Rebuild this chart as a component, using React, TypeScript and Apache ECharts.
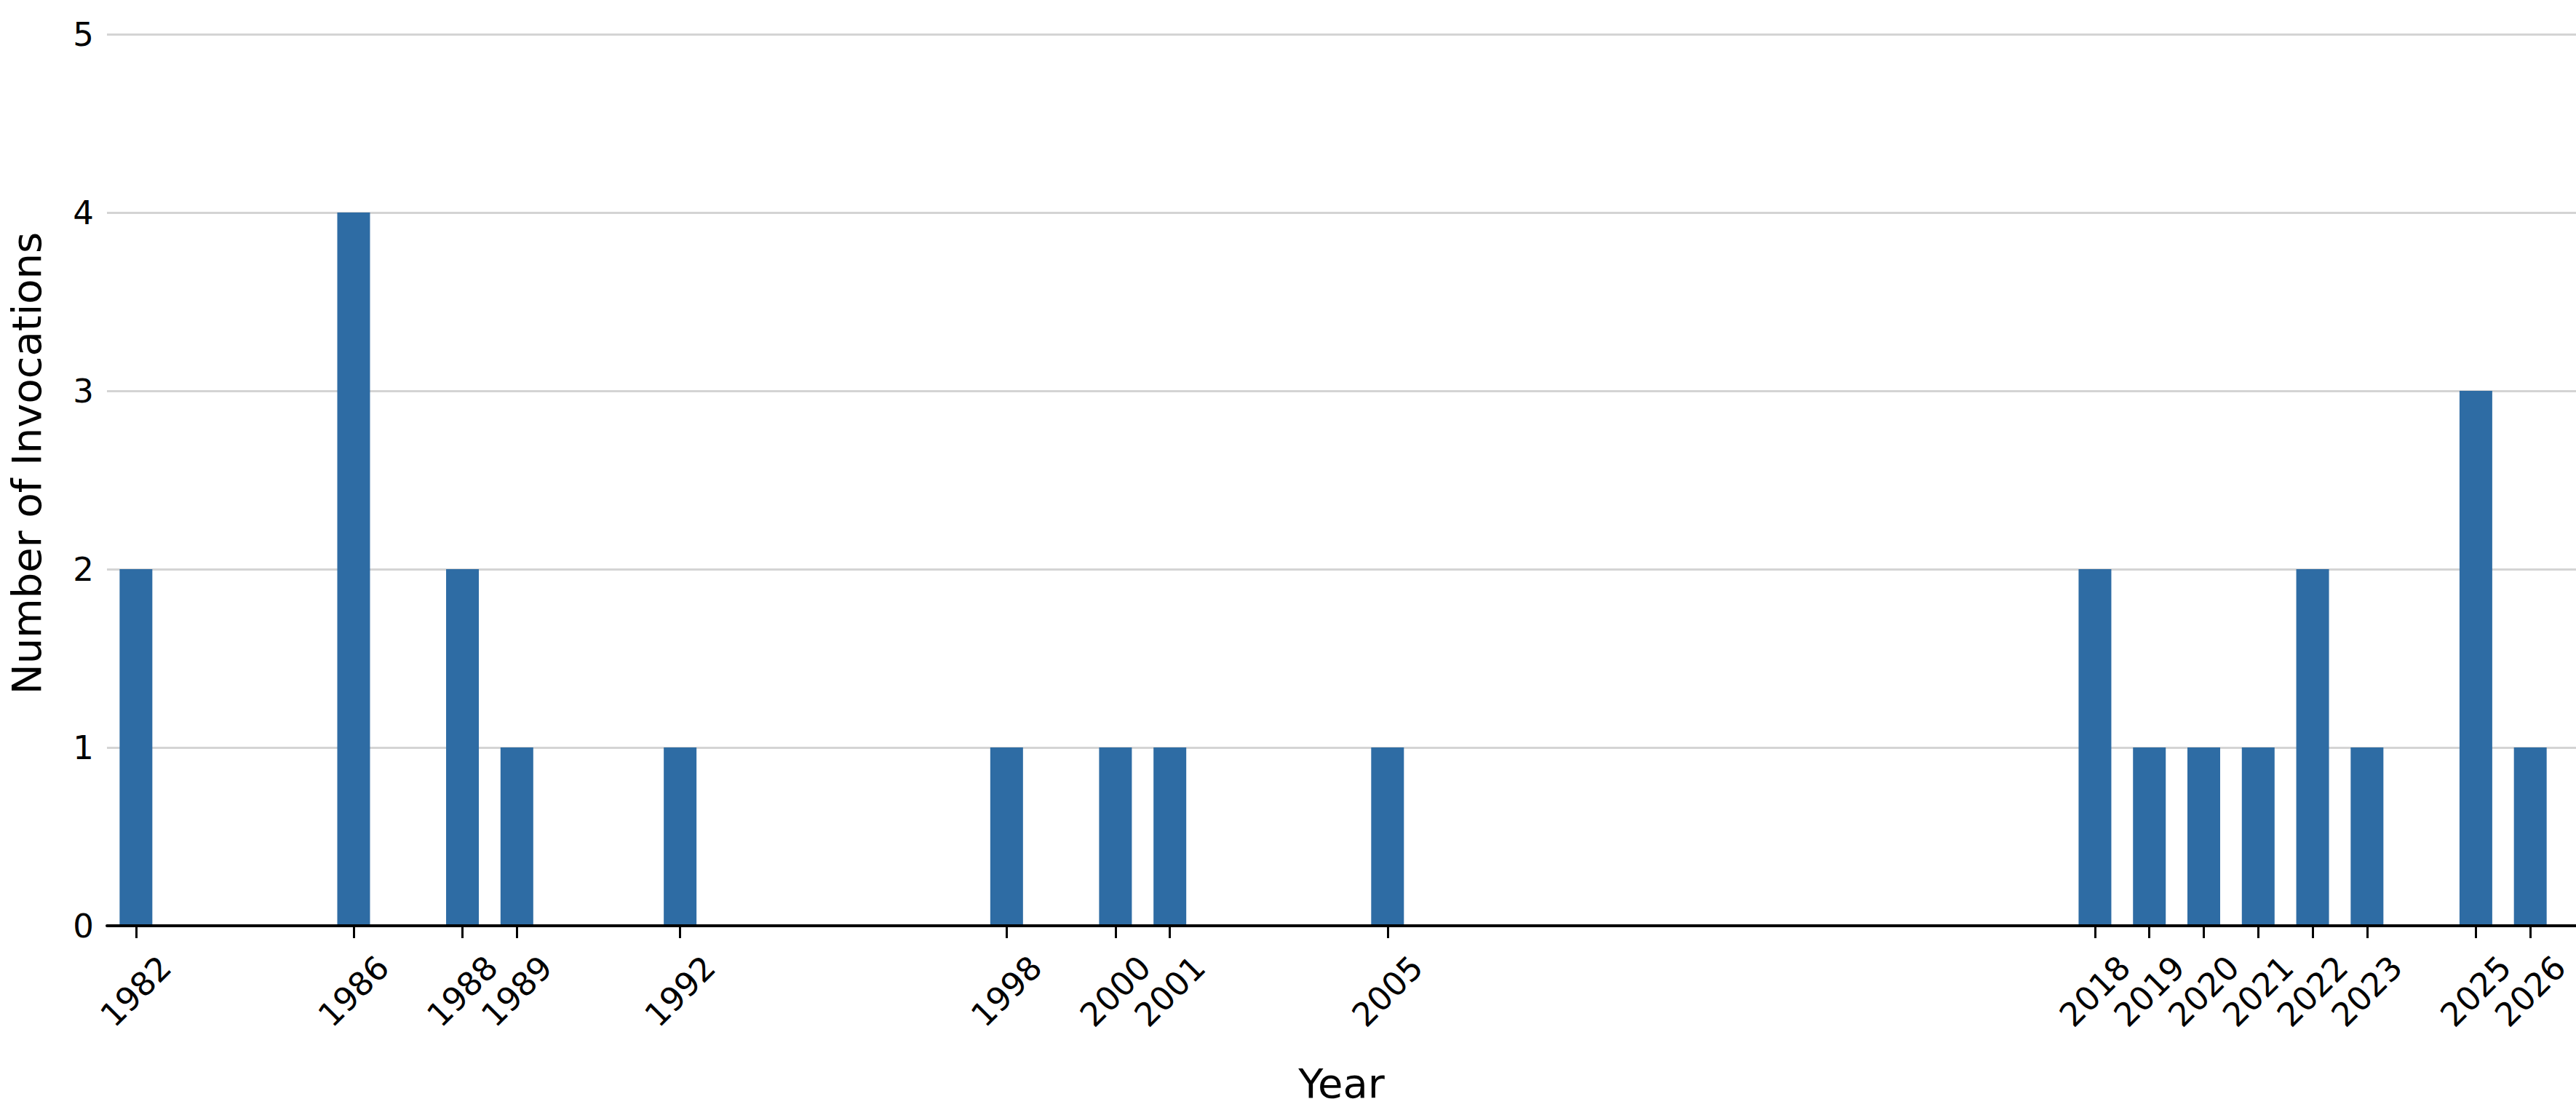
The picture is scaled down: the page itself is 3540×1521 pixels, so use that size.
import React, { useEffect, useRef } from 'react';
import * as echarts from 'echarts';

// invocations per year
const years = [1982, 1986, 1988, 1989, 1992, 1998, 2000, 2001, 2005, 2018, 2019, 2020, 2021, 2022, 2023, 2025, 2026];
const counts = [2, 4, 2, 1, 1, 1, 1, 1, 1, 2, 1, 1, 1, 2, 1, 3, 1];
const yTicks = [0, 1, 2, 3, 4, 5];

const FONT = '"DejaVu Sans", sans-serif';

const App: React.FC = () => {
  const chartRef = useRef<HTMLDivElement | null>(null);

  useEffect(() => {
    document.body.style.margin = '0';
    if (!chartRef.current) return;
    const chart = echarts.init(chartRef.current, null, { renderer: 'svg' });

    chart.setOption({
      animation: false,
      backgroundColor: '#ffffff',
      textStyle: { fontFamily: FONT },
      grid: { left: 139, right: 0, top: 47, bottom: 233, containLabel: false },
      xAxis: {
        type: 'value',
        min: 1981.467,
        max: 2026.84,
        z: 10,
        name: 'Year',
        nameLocation: 'middle',
        nameGap: 188,
        nameTextStyle: { fontSize: 56, color: '#000', fontFamily: FONT },
        splitLine: { show: false },
        axisLine: { show: true, onZero: false, lineStyle: { color: '#000', width: 4 } },
        axisTick: {
          show: true,
          customValues: years,
          length: 17,
          lineStyle: { color: '#000', width: 3 },
        },
        axisLabel: {
          customValues: years,
          formatter: (v: number) => String(v),
          rotate: 45,
          align: 'center',
          verticalAlign: 'middle',
          margin: 90,
          fontSize: 45,
          color: '#000',
          fontFamily: FONT,
        },
      },
      yAxis: {
        type: 'value',
        min: yTicks[0],
        max: yTicks[yTicks.length - 1],
        interval: 1,
        name: 'Number of Invocations',
        nameLocation: 'middle',
        nameGap: 83,
        nameTextStyle: { fontSize: 56, color: '#000', fontFamily: FONT, padding: [0, 0, 0, 46] },
        axisLine: { show: false },
        axisTick: { show: false },
        splitLine: { show: true, lineStyle: { color: '#d4d4d4', width: 3 } },
        axisLabel: { fontSize: 45, color: '#000', margin: 18, fontFamily: FONT },
      },
      series: [
        {
          type: 'bar',
          data: years.map((y, i) => [y, counts[i]]),
          barWidth: 45,
          itemStyle: { color: '#2e6ca4' },
        },
      ],
    });

    return () => {
      chart.dispose();
    };
  }, []);

  return <div ref={chartRef} style={{ width: '3540px', height: '1521px' }}></div>;
};

export default App;
